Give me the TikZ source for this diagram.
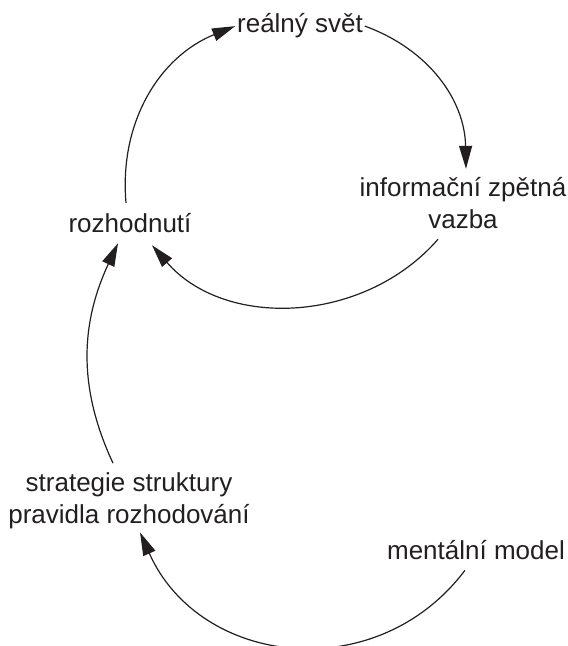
\documentclass[tikz,border=0pt]{standalone}
\usepackage{fontspec}
\setmainfont{Liberation Sans}
\usepackage{tikz}
\usetikzlibrary{arrows.meta}
\definecolor{Ink}{HTML}{231F20}

\begin{document}
\begin{tikzpicture}[x=1pt,y=1pt,
lbl/.style={inner sep=2pt,outer sep=0pt,text=Ink,font=\fontsize{26}{32}\selectfont,align=center},
link/.style={-{Triangle[length=23pt,width=13pt]},line width=1.2pt,draw=Ink}]
\useasboundingbox (0,0) rectangle (568,646);
\node[lbl,anchor=base] (real) at (300,613) {reálný svět};
\node[lbl,anchor=base] (info) at (463,417) {informační zpětná\\vazba};
\node[lbl,anchor=base] (rozh) at (130,413) {rozhodnutí};
\node[lbl,anchor=base] (strat) at (129,122) {strategie struktury\\pravidla rozhodování};
\node[lbl,anchor=base] (ment) at (476,86) {mentální model};
\draw[link] ([shift={(-4pt,9pt)}]rozh.north) to[out=95,in=202] (real.west);
\draw[link] (real.east) to[out=-20,in=91] ([shift={(3pt,7pt)}]info.north);
\draw[link] ([shift={(-25pt,-8pt)}]info.south) to[out=229,in=311] ([shift={(22pt,-10pt)}]rozh.south);
\draw[link] ([shift={(-16pt,8pt)}]strat.north) to[out=115,in=245] ([shift={(-12pt,-8pt)}]rozh.south);
\draw[link] ([shift={(-11pt,-8pt)}]ment.south) to[out=233,in=294,looseness=1.15] ([shift={(11pt,-1pt)}]strat.south);
\end{tikzpicture}
\end{document}
